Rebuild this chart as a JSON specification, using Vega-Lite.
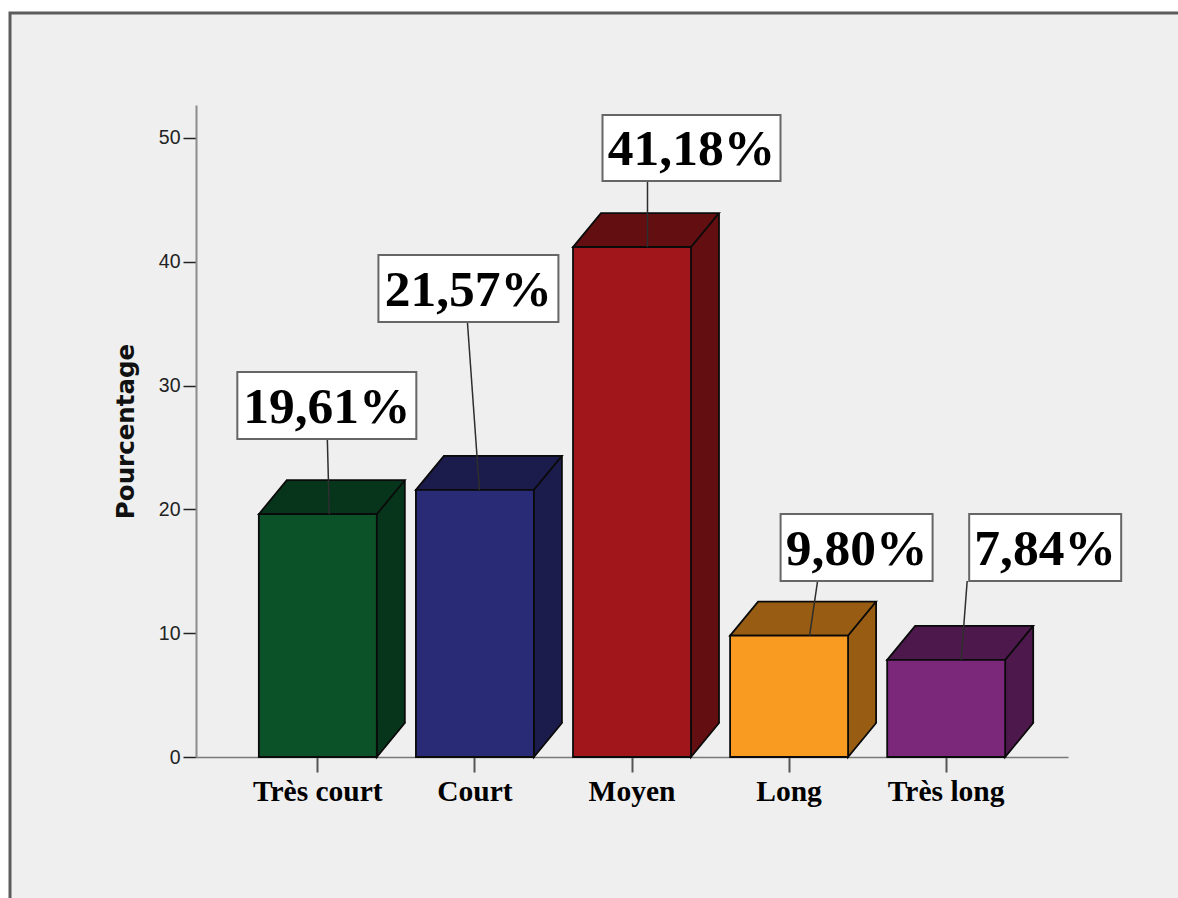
{
  "$schema": "https://vega.github.io/schema/vega-lite/v6.json",
  "width": 1168,
  "height": 885,
  "autosize": {"type": "none"},
  "padding": {"left": 10, "top": 13, "right": 0, "bottom": 0},
  "background": "#ffffff",
  "config": {
    "locale": {
      "number": {"decimal": ",", "thousands": ".", "grouping": [3], "currency": ["", "%"]}
    },
    "view": {
      "fill": "#efefef",
      "stroke": "#5c5c5c",
      "strokeWidth": 3,
      "strokeDash": [1168, 2053, 885]
    }
  },
  "data": {
    "values": [
      {"cat": "Très court", "value": 19.61},
      {"cat": "Court", "value": 21.57},
      {"cat": "Moyen", "value": 41.18},
      {"cat": "Long", "value": 9.80},
      {"cat": "Très long", "value": 7.84}
    ]
  },
  "encoding": {
    "x": {
      "field": "cat",
      "type": "nominal",
      "sort": null,
      "scale": {"type": "band", "range": [186, 1058], "paddingInner": 0.249, "paddingOuter": 0.4},
      "axis": {
        "title": null,
        "offset": -141,
        "labelAngle": 0,
        "domainColor": "#7a7a7a",
        "domainWidth": 1.5,
        "tickColor": "#555555",
        "tickWidth": 2,
        "tickSize": 15,
        "labelPadding": 28,
        "labelBaseline": "alphabetic",
        "labelFont": "Liberation Serif",
        "labelFontWeight": "bold",
        "labelFontSize": 29.5,
        "labelColor": "#000000"
      }
    },
    "y": {
      "field": "value",
      "type": "quantitative",
      "scale": {"domain": [0, 52.66], "range": [744, 92], "nice": false},
      "axis": {
        "title": "Pourcentage",
        "values": [0, 10, 20, 30, 40, 50],
        "grid": false,
        "offset": -186,
        "domainColor": "#8c8c8c",
        "domainWidth": 2,
        "tickColor": "#222222",
        "tickWidth": 1.5,
        "tickSize": 13,
        "labelPadding": 3,
        "labelFont": "Liberation Sans",
        "labelFontSize": 19.5,
        "labelColor": "#222222",
        "titleFont": "DejaVu Sans",
        "titleFontWeight": "bold",
        "titleFontSize": 24.5,
        "titleColor": "#111111",
        "titleBaseline": "alphabetic",
        "titlePadding": 25
      }
    }
  },
  "layer": [
    {
      "mark": {"type": "bar", "width": 28, "xOffset": 73, "yOffset": -34, "y2Offset": -34},
      "encoding": {
        "y2": {"datum": 0},
        "fill": {
          "field": "cat", "type": "nominal", "legend": null,
          "scale": {"domain": ["Très court", "Court", "Moyen", "Long", "Très long"],
                    "range": ["#06351b", "#1b1b4c", "#630e11", "#985d13", "#4d194d"]}
        }
      }
    },
    {
      "mark": {"type": "point", "shape": "M59,-35 L59,0 L87,-34 L87,-35", "size": 4, "filled": true, "opacity": 1, "stroke": "#0a0a0a", "strokeWidth": 1.8},
      "encoding": {
        "y": {"datum": 0},
        "fill": {
          "field": "cat", "type": "nominal", "legend": null,
          "scale": {"domain": ["Très court", "Court", "Moyen", "Long", "Très long"],
                    "range": ["#06351b", "#1b1b4c", "#630e11", "#985d13", "#4d194d"]}
        }
      }
    },
    {
      "mark": {"type": "point", "shape": "M-59,0 L-31,-34 L87,-34 L59,0 Z", "size": 4, "filled": true, "opacity": 1, "stroke": "#0a0a0a", "strokeWidth": 1.8},
      "encoding": {
        "fill": {
          "field": "cat", "type": "nominal", "legend": null,
          "scale": {"domain": ["Très court", "Court", "Moyen", "Long", "Très long"],
                    "range": ["#06351b", "#1b1b4c", "#630e11", "#985d13", "#4d194d"]}
        }
      }
    },
    {
      "mark": {"type": "rule", "xOffset": 87, "yOffset": -34, "y2Offset": -34, "stroke": "#0a0a0a", "strokeWidth": 1.8},
      "encoding": {"y2": {"datum": 0}}
    },
    {
      "mark": {"type": "bar", "stroke": "#0a0a0a", "strokeWidth": 1.8},
      "encoding": {
        "y2": {"datum": 0},
        "color": {
          "field": "cat", "type": "nominal", "legend": null,
          "scale": {"domain": ["Très court", "Court", "Moyen", "Long", "Très long"],
                    "range": ["#0b5229", "#2a2b77", "#a1161b", "#f89b20", "#7b287b"]}
        }
      }
    },
    {
      "transform": [{"filter": {"field": "cat", "equal": "Très court"}}],
      "layer": [
        {"mark": {"type": "point", "shape": "M9.5,-75.2 L11.5,0", "size": 4, "filled": false, "opacity": 1, "stroke": "#2e2e2e", "strokeWidth": 1.5}},
        {"mark": {"type": "point", "shape": "M-80.5,-142.2 L98.5,-142.2 L98.5,-75.2 L-80.5,-75.2 Z", "size": 4, "filled": true, "fill": "#ffffff", "opacity": 1, "stroke": "#666666", "strokeWidth": 2}},
        {"mark": {"type": "text", "font": "Liberation Serif", "fontWeight": "bold", "fontSize": 51.5, "color": "#000000", "align": "center", "baseline": "alphabetic", "dx": 9, "dy": -91.2},
         "encoding": {"text": {"field": "value", "type": "quantitative", "format": "$.2f"}}}
      ]
    },
    {
      "transform": [{"filter": {"field": "cat", "equal": "Court"}}],
      "layer": [
        {"mark": {"type": "point", "shape": "M-7.5,-168 L4.5,0", "size": 4, "filled": false, "opacity": 1, "stroke": "#2e2e2e", "strokeWidth": 1.5}},
        {"mark": {"type": "point", "shape": "M-96.5,-235 L83.5,-235 L83.5,-168 L-96.5,-168 Z", "size": 4, "filled": true, "fill": "#ffffff", "opacity": 1, "stroke": "#666666", "strokeWidth": 2}},
        {"mark": {"type": "text", "font": "Liberation Serif", "fontWeight": "bold", "fontSize": 51.5, "color": "#000000", "align": "center", "baseline": "alphabetic", "dx": -6.5, "dy": -184},
         "encoding": {"text": {"field": "value", "type": "quantitative", "format": "$.2f"}}}
      ]
    },
    {
      "transform": [{"filter": {"field": "cat", "equal": "Moyen"}}],
      "layer": [
        {"mark": {"type": "point", "shape": "M15.5,-66.2 L15.5,0", "size": 4, "filled": false, "opacity": 1, "stroke": "#2e2e2e", "strokeWidth": 1.5}},
        {"mark": {"type": "point", "shape": "M-29.5,-132.2 L148.5,-132.2 L148.5,-66.2 L-29.5,-66.2 Z", "size": 4, "filled": true, "fill": "#ffffff", "opacity": 1, "stroke": "#666666", "strokeWidth": 2}},
        {"mark": {"type": "text", "font": "Liberation Serif", "fontWeight": "bold", "fontSize": 51.5, "color": "#000000", "align": "center", "baseline": "alphabetic", "dx": 59.5, "dy": -81.7},
         "encoding": {"text": {"field": "value", "type": "quantitative", "format": "$.2f"}}}
      ]
    },
    {
      "transform": [{"filter": {"field": "cat", "equal": "Long"}}],
      "layer": [
        {"mark": {"type": "point", "shape": "M28.5,-54.7 L20.5,0", "size": 4, "filled": false, "opacity": 1, "stroke": "#2e2e2e", "strokeWidth": 1.5}},
        {"mark": {"type": "point", "shape": "M-8.5,-121.7 L143.5,-121.7 L143.5,-54.7 L-8.5,-54.7 Z", "size": 4, "filled": true, "fill": "#ffffff", "opacity": 1, "stroke": "#666666", "strokeWidth": 2}},
        {"mark": {"type": "text", "font": "Liberation Serif", "fontWeight": "bold", "fontSize": 51.5, "color": "#000000", "align": "center", "baseline": "alphabetic", "dx": 67.5, "dy": -70.7},
         "encoding": {"text": {"field": "value", "type": "quantitative", "format": "$.2f"}}}
      ]
    },
    {
      "transform": [{"filter": {"field": "cat", "equal": "Très long"}}],
      "layer": [
        {"mark": {"type": "point", "shape": "M21,-78.9 L15,0", "size": 4, "filled": false, "opacity": 1, "stroke": "#2e2e2e", "strokeWidth": 1.5}},
        {"mark": {"type": "point", "shape": "M23,-145.9 L175,-145.9 L175,-78.9 L23,-78.9 Z", "size": 4, "filled": true, "fill": "#ffffff", "opacity": 1, "stroke": "#666666", "strokeWidth": 2}},
        {"mark": {"type": "text", "font": "Liberation Serif", "fontWeight": "bold", "fontSize": 51.5, "color": "#000000", "align": "center", "baseline": "alphabetic", "dx": 99, "dy": -94.9},
         "encoding": {"text": {"field": "value", "type": "quantitative", "format": "$.2f"}}}
      ]
    }
  ]
}
